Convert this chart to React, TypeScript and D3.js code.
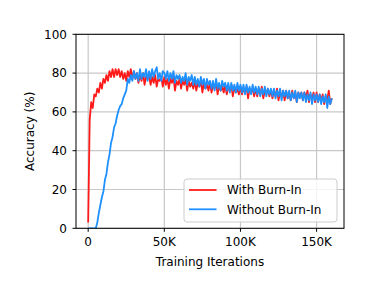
import React from "react";
import * as d3 from "d3";

const withBurnIn: number[] = [
  3, 56, 65, 62, 69, 68, 72, 70, 75, 72, 77, 75, 79, 76, 81, 78, 82, 78, 82, 79,
  82, 78, 81, 77, 80, 76, 81, 78, 82, 77,
  81, 77, 80, 75, 79, 76, 80, 74, 78, 77,
  79, 74, 78, 75, 79, 73, 77, 76, 78, 73,
  78, 74, 77, 72, 77, 75, 78, 71, 76, 74,
  77, 72, 76, 74, 77, 71, 76, 73, 75, 72,
  76, 71, 75, 73, 76, 70, 75, 72, 74, 71,
  75, 70, 74, 72, 75, 69, 74, 71, 73, 70,
  74, 69, 73, 71, 74, 68, 73, 70, 72, 69,
  73, 69, 72, 70, 73, 67, 72, 70, 72, 68,
  72, 68, 72, 69, 73, 67, 71, 69, 72, 68,
  71, 67, 71, 68, 72, 66, 70, 68, 71, 66,
  71, 67, 70, 66, 71, 67, 70, 65, 70, 68,
  70, 66, 70, 67, 71, 65, 69, 67, 70, 65,
  70, 65, 69, 66, 69, 64, 68, 66, 71, 64, 67,
];

const withoutBurnIn: number[] = [
  0, 0, 0, 0, 0, 0, 3, 8, 12, 16, 19, 25, 28, 34, 38, 44, 47, 52, 54, 58,
  61, 63, 64, 67, 69, 71, 77, 75, 79, 76,
  81, 77, 80, 76, 82, 77, 80, 78, 82, 76,
  81, 77, 82, 78, 81, 83, 77, 80, 76, 81,
  80, 77, 81, 76, 80, 77, 81, 75, 79, 77,
  79, 75, 78, 76, 80, 74, 78, 76, 79, 74,
  78, 74, 77, 73, 78, 74, 77, 72, 77, 74,
  76, 72, 76, 71, 77, 72, 75, 71, 76, 73,
  75, 71, 75, 70, 75, 71, 74, 70, 75, 71,
  74, 70, 74, 69, 74, 70, 73, 69, 74, 70,
  73, 69, 73, 68, 72, 69, 73, 68, 72, 69,
  72, 68, 72, 67, 71, 68, 72, 66, 71, 68,
  71, 67, 71, 66, 70, 67, 71, 65, 70, 67,
  70, 66, 70, 65, 69, 66, 70, 64, 69, 66,
  69, 65, 69, 64, 68, 65, 69, 62, 68, 64, 67,
];

const iterationStepK = 1; // thousand iterations per sample
const xTicks = [0, 50, 100, 150];
const xTickLabels = ["0", "50K", "100K", "150K"];
const yTicks = [0, 20, 40, 60, 80, 100];
const seriesNames = ["With Burn-In", "Without Burn-In"];
const seriesColors = ["#ff1a1a", "#1e90ff"];

const W = 382;
const H = 286;
const M = { left: 76, right: 344, top: 34.3, bottom: 228.3 };
const FONT = "DejaVu Sans, sans-serif";

export default function App() {
  const n = withBurnIn.length;
  const xMax = (n - 1) * iterationStepK;
  const pad = xMax * 0.05;
  const x = d3.scaleLinear().domain([-pad, xMax + pad]).range([M.left, M.right]);
  const y = d3.scaleLinear().domain([0, 100]).range([M.bottom, M.top]);

  const line = d3
    .line<number>()
    .x((_, i) => x(i * iterationStepK))
    .y((d) => y(d));

  const series = [withBurnIn, withoutBurnIn];

  return (
    <svg
      width={W}
      height={H}
      style={{ position: "absolute", left: 0, top: 0, background: "#fff" }}
      fontFamily={FONT}
    >
      <defs>
        <clipPath id="plotClip">
          <rect x={M.left} y={M.top} width={M.right - M.left} height={M.bottom - M.top} />
        </clipPath>
      </defs>
      {/* grid */}
      {xTicks.map((t) => (
        <line key={"gx" + t} x1={x(t)} x2={x(t)} y1={M.top} y2={M.bottom} stroke="#c8c8c8" strokeWidth={1.2} />
      ))}
      {yTicks.map((t) => (
        <line key={"gy" + t} x1={M.left} x2={M.right} y1={y(t)} y2={y(t)} stroke="#c8c8c8" strokeWidth={1.2} />
      ))}
      {/* lines */}
      <g clipPath="url(#plotClip)">
        {series.map((s, k) => (
          <path key={k} d={line(s) || ""} fill="none" stroke={seriesColors[k]} strokeWidth={1.8} strokeLinejoin="round" />
        ))}
      </g>
      {/* frame */}
      <rect x={M.left} y={M.top} width={M.right - M.left} height={M.bottom - M.top} fill="none" stroke="#000" strokeWidth={1} />
      {/* x ticks */}
      {xTicks.map((t, i) => (
        <g key={"xt" + t}>
          <line x1={x(t)} x2={x(t)} y1={M.bottom} y2={M.bottom + 3.5} stroke="#000" strokeWidth={1} />
          <text x={x(t)} y={M.bottom + 18} textAnchor="middle" fontSize={12} fill="#000">
            {xTickLabels[i]}
          </text>
        </g>
      ))}
      {/* y ticks */}
      {yTicks.map((t) => (
        <g key={"yt" + t}>
          <line x1={M.left - 3.5} x2={M.left} y1={y(t)} y2={y(t)} stroke="#000" strokeWidth={1} />
          <text x={M.left - 9} y={y(t) + 4.3} textAnchor="end" fontSize={12} fill="#000">
            {t}
          </text>
        </g>
      ))}
      {/* axis labels */}
      <text x={(M.left + M.right) / 2} y={266} textAnchor="middle" fontSize={12} fill="#000">
        Training Iterations
      </text>
      <text
        transform={`translate(${34},${(M.top + M.bottom) / 2}) rotate(-90)`}
        textAnchor="middle"
        fontSize={12}
        fill="#000"
      >
        Accuracy (%)
      </text>
      {/* legend */}
      <rect x={184} y={179} width={153} height={43} rx={3} fill="#fff" fillOpacity={0.8} stroke="#cccccc" strokeWidth={1} />
      {seriesNames.map((name, k) => (
        <g key={name}>
          <line x1={189} x2={216.5} y1={190 + k * 19.3} y2={190 + k * 19.3} stroke={seriesColors[k]} strokeWidth={1.8} />
          <text x={227} y={190 + k * 19.3 + 4.3} fontSize={12} fill="#000">
            {name}
          </text>
        </g>
      ))}
    </svg>
  );
}
